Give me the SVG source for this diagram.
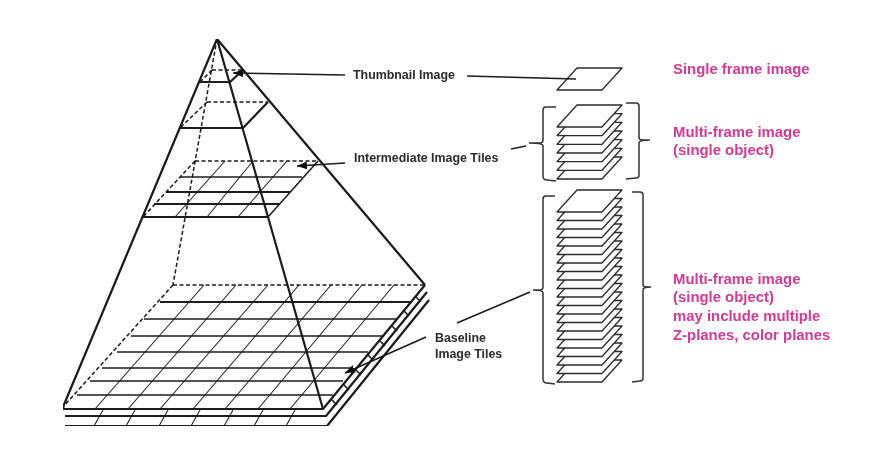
<svg xmlns="http://www.w3.org/2000/svg" width="875" height="459" viewBox="0 0 875 459">
<style>
.s{fill:none;stroke:#1a1a1a;stroke-width:2.2;stroke-linejoin:round}
.t{fill:none;stroke:#222;stroke-width:1.1}
.m{fill:none;stroke:#1a1a1a;stroke-width:1.5}
.d{fill:none;stroke:#1a1a1a;stroke-width:1.5;stroke-dasharray:4 2.5}
.f{fill:#fff;stroke:#2a2a2a;stroke-width:1.3;stroke-linejoin:round}
.b{fill:none;stroke:#333;stroke-width:1.5}
.l{font:bold 12.4px "Liberation Sans",Arial,sans-serif;fill:#2a2a2a}
.p{font:bold 14.9px "Liberation Sans",Arial,sans-serif;fill:#d03a94}
</style>
<defs>
<marker id="a" markerWidth="10" markerHeight="8" refX="10" refY="4" orient="auto" markerUnits="userSpaceOnUse"><path d="M0 0L10 4L0 8z" fill="#111"/></marker>
<g id="fr"><path class="f" d="M20 0H65L45 22H0z"/></g>
<filter id="soft" x="0" y="0" width="100%" height="100%"><feGaussianBlur stdDeviation="0.4"/></filter>
</defs>
<g filter="url(#soft)">
<g id="base-layers">
<path class="s" d="M65 426H327L429 300M65 416H326L427 292"/>
<path class="t" d="M103 410L94 426M135 410L126 426M168 410L159 426M200 410L191 426M233 410L224 426M263 410L254 426M295 410L286 426"/>
<path class="m" d="M331 399L337 405M343 384L349 390M355 369L361 375M367 354L373 360M379 340L385 346M391 325L397 331M403 310L409 316M415 296L421 302"/>
</g>
<g id="baseline-level">
<path class="t" d="M204 285L95 409M236 285L128 409M268 285L160 409M299 285L193 409M331 285L225 409M362 285L258 409M394 285L290 409"/>
<path class="m" d="M144 319H397M131 336H383M117 352H368M102 368H353M90 381H343M77 395H333"/>
<path class="s" d="M160 302H412"/>
<path class="d" d="M173 285H425M173 285L63 407"/>
<path class="s" d="M63 407L64 409H323L425 285"/>
</g>
<g id="intermediate-level">
<path class="t" d="M225 161L175 217M253 161L207 217M287 161L238 217"/>
<path class="d" d="M195 161H318M195 161L143 217"/>
<path class="m" d="M180 177H302"/>
<path class="s" d="M166 192H290M154 204H280"/>
<path class="s" d="M143 217H268"/>
<path class="m" d="M268 217L318 161"/>
</g>
<g id="upper-level">
<path class="d" d="M207 102H268M207 102L180 128"/>
<path class="s" d="M180 128H243L268 102"/>
</g>
<g id="thumbnail-level">
<path class="d" d="M212 70H243M212 70L200 82"/>
<path class="s" d="M200 82H230L243 70"/>
</g>
<g id="pyramid">
<path class="s" d="M63 407L217 39L425 285M217 39L323 409"/>
<path class="d" d="M217 39L173 285"/>
</g>
<g id="single-frame"><use href="#fr" x="557" y="68"/></g>
<g id="connectors">
<path class="m" d="M345 75L233 73" marker-end="url(#a)"/>
<path class="m" d="M467 76L576 79"/>
<path class="m" d="M345 163L297 166" marker-end="url(#a)"/>
<path class="m" d="M511 149L526 146"/>
<path class="m" d="M426 337L345 373" marker-end="url(#a)"/>
<path class="m" d="M457 323L530 292"/>
</g>
<g id="multi-frame">
<use href="#fr" x="557" y="157"/><use href="#fr" x="557" y="148.300"/><use href="#fr" x="557" y="139.700"/><use href="#fr" x="557" y="131"/><use href="#fr" x="557" y="122.300"/><use href="#fr" x="557" y="113.700"/><use href="#fr" x="557" y="105"/>
<path class="b" d="M556 107H546Q543 107 543 110V140Q543 143 540 143H529Q543 143 543 146V176Q543 180 547 180L556 181M626 103H636Q639 103 639 106V137Q639 140 642 140H650Q639 140 639 143V175Q639 178 636 178L626 179"/>
</g>
<g id="long-stack">
<use href="#fr" x="557" y="360"/><use href="#fr" x="557" y="351.500"/><use href="#fr" x="557" y="343"/><use href="#fr" x="557" y="334.500"/><use href="#fr" x="557" y="326"/><use href="#fr" x="557" y="317.500"/><use href="#fr" x="557" y="309"/><use href="#fr" x="557" y="300.500"/><use href="#fr" x="557" y="292"/><use href="#fr" x="557" y="283.500"/><use href="#fr" x="557" y="275"/><use href="#fr" x="557" y="266.500"/><use href="#fr" x="557" y="258"/><use href="#fr" x="557" y="249.500"/><use href="#fr" x="557" y="241"/><use href="#fr" x="557" y="232.500"/><use href="#fr" x="557" y="224"/><use href="#fr" x="557" y="215.500"/><use href="#fr" x="557" y="207"/><use href="#fr" x="557" y="198.500"/><use href="#fr" x="557" y="190"/>
<path class="b" d="M555 196H546Q543 196 543 199V287Q543 290 540 290H533Q543 290 543 293V379Q543 383 547 383L555 384M632 192H640Q643 192 643 195V284Q643 287 646 287H651Q643 287 643 290V378Q643 381 640 381L632 382"/>
</g>
<g id="labels">
<text class="l" x="353" y="79">Thumbnail Image</text>
<text class="l" x="354" y="162">Intermediate Image Tiles</text>
<text class="l" x="435" y="342">Baseline</text>
<text class="l" x="435" y="358">Image Tiles</text>
<text class="p" x="673" y="74">Single frame image</text>
<text class="p" x="673" y="137">Multi-frame  image</text>
<text class="p" x="673" y="155">(single object)</text>
<text class="p" x="673" y="284">Multi-frame  image</text>
<text class="p" x="673" y="302">(single object)</text>
<text class="p" x="673" y="321">may include multiple</text>
<text class="p" x="673" y="340">Z-planes, color planes</text>
</g>
</g>
</svg>
